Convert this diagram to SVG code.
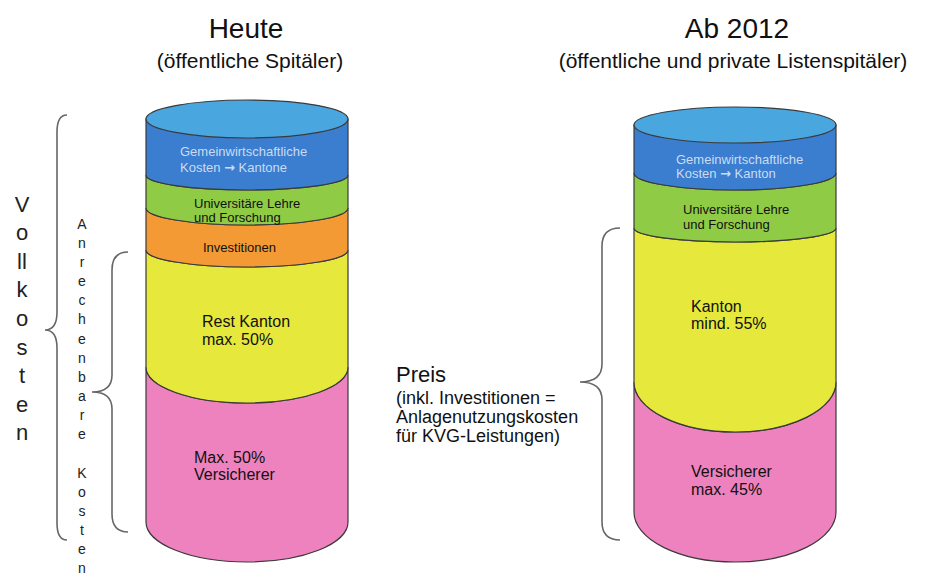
<svg xmlns="http://www.w3.org/2000/svg" width="928" height="578" viewBox="0 0 928 578">
<style>
  text { font-family: "Liberation Sans", Arial, sans-serif; fill: #111; }
  .title { font-size: 28px; text-anchor: middle; }
  .sub { font-size: 21px; text-anchor: middle; }
  .lbl13 { font-size: 13px; }
  .lbl16 { font-size: 16px; }
  .wht { fill: #c9dcf2; }
  .arr { font-family: "DejaVu Sans", sans-serif; font-weight: bold; fill: #c9dcf2; }
  .vol { font-size: 22px; text-anchor: middle; fill: #222; }
  .anr { font-size: 14px; text-anchor: middle; fill: #222; }
  .band { stroke: #3a3a3a; stroke-width: 1.2; }
  .brace { fill: none; stroke: #666; stroke-width: 1.6; }
  .blue { fill: #3b7dcf; }
  .topc { fill: #4aa6df; }
  .green { fill: #8fcb45; }
  .orange { fill: #f39a35; }
  .yellow { fill: #e6e83c; }
  .pink { fill: #ee82be; }
</style>
<rect width="928" height="578" fill="#ffffff"/>

<g id="titles">
  <text class="title" x="246" y="38">Heute</text>
  <text class="sub" x="250" y="68">(öffentliche Spitäler)</text>
  <text class="title" x="737" y="38">Ab 2012</text>
  <text class="sub" x="733" y="68">(öffentliche und private Listenspitäler)</text>
</g>

<g id="cylinder-heute">
  <path class="band pink" d="M146,367 A101,36 0 0 0 348,367 L348,522 A101,40 0 0 1 146,522 Z"/>
  <path class="band yellow" d="M146,250 A101,17 0 0 0 348,250 L348,367 A101,36 0 0 1 146,367 Z"/>
  <path class="band orange" d="M146,208 A101,17 0 0 0 348,208 L348,250 A101,17 0 0 1 146,250 Z"/>
  <path class="band green" d="M146,175 A101,15 0 0 0 348,175 L348,208 A101,17 0 0 1 146,208 Z"/>
  <path class="band blue" d="M146,119 L348,119 L348,175 A101,15 0 0 1 146,175 Z"/>
  <ellipse class="band topc" cx="247" cy="119" rx="101" ry="19"/>
  <text class="lbl13 wht" x="180" y="156">Gemeinwirtschaftliche</text>
  <text class="lbl13 wht" x="180" y="172">Kosten <tspan class="arr">→</tspan> Kantone</text>
  <text class="lbl13" x="194" y="208">Universitäre Lehre</text>
  <text class="lbl13" x="194" y="222">und Forschung</text>
  <text class="lbl13" x="203" y="252">Investitionen</text>
  <text class="lbl16" x="202" y="327">Rest Kanton</text>
  <text class="lbl16" x="202" y="345">max. 50%</text>
  <text class="lbl16" x="194" y="463">Max. 50%</text>
  <text class="lbl16" x="194" y="480">Versicherer</text>
</g>

<g id="cylinder-2012">
  <path class="band pink" d="M634,382 A101,50 0 0 0 836,382 L836,512 A101,50 0 0 1 634,512 Z"/>
  <path class="band yellow" d="M634,228 A101,14 0 0 0 836,228 L836,382 A101,50 0 0 1 634,382 Z"/>
  <path class="band green" d="M634,173 A101,17 0 0 0 836,173 L836,228 A101,14 0 0 1 634,228 Z"/>
  <path class="band blue" d="M634,125 L836,125 L836,173 A101,17 0 0 1 634,173 Z"/>
  <ellipse class="band topc" cx="735" cy="125" rx="101" ry="18"/>
  <text class="lbl13 wht" x="676" y="164">Gemeinwirtschaftliche</text>
  <text class="lbl13 wht" x="676" y="178">Kosten <tspan class="arr">→</tspan> Kanton</text>
  <text class="lbl13" x="683" y="214">Universitäre Lehre</text>
  <text class="lbl13" x="683" y="229">und Forschung</text>
  <text class="lbl16" x="691" y="312">Kanton</text>
  <text class="lbl16" x="691" y="329">mind. 55%</text>
  <text class="lbl16" x="691" y="477">Versicherer</text>
  <text class="lbl16" x="691" y="495">max. 45%</text>
</g>

<g id="vollkosten">
  <text class="vol" x="22" y="212">V</text>
  <text class="vol" x="22" y="240">o</text>
  <text class="vol" x="22" y="269">ll</text>
  <text class="vol" x="22" y="297">k</text>
  <text class="vol" x="22" y="326">o</text>
  <text class="vol" x="22" y="355">s</text>
  <text class="vol" x="22" y="383">t</text>
  <text class="vol" x="22" y="412">e</text>
  <text class="vol" x="22" y="440">n</text>
</g>

<g id="anrechenbare-kosten">
  <text class="anr" x="82" y="229">A</text>
  <text class="anr" x="82" y="248">n</text>
  <text class="anr" x="82" y="267">r</text>
  <text class="anr" x="82" y="286">e</text>
  <text class="anr" x="82" y="305">c</text>
  <text class="anr" x="82" y="324">h</text>
  <text class="anr" x="82" y="344">e</text>
  <text class="anr" x="82" y="363">n</text>
  <text class="anr" x="82" y="382">b</text>
  <text class="anr" x="82" y="401">a</text>
  <text class="anr" x="82" y="420">r</text>
  <text class="anr" x="82" y="439">e</text>
  <text class="anr" x="82" y="478">K</text>
  <text class="anr" x="82" y="497">o</text>
  <text class="anr" x="82" y="516">s</text>
  <text class="anr" x="82" y="535">t</text>
  <text class="anr" x="82" y="554">e</text>
  <text class="anr" x="82" y="573">n</text>
</g>

<g id="preis">
  <text x="396" y="382" style="font-size:22px">Preis</text>
  <text x="396" y="404" style="font-size:18px">(inkl. Investitionen =</text>
  <text x="396" y="423" style="font-size:18px">Anlagenutzungskosten</text>
  <text x="396" y="442" style="font-size:18px">für KVG-Leistungen)</text>
</g>

<g id="connectors">
  <path class="brace" d="M67,115 Q57,115 57,132 L57,312 Q57,330 45,330 Q57,330 57,348 L57,523 Q57,540 67,540"/>
  <path class="brace" d="M128,252 Q112,252 112,270 L112,375 Q112,392 92,392 Q112,392 112,409 L112,514 Q112,532 128,532"/>
  <path class="brace" d="M620,228 Q602,228 602,246 L602,364 Q602,382 580,382 Q602,382 602,400 L602,522 Q602,540 620,540"/>
</g>
</svg>
